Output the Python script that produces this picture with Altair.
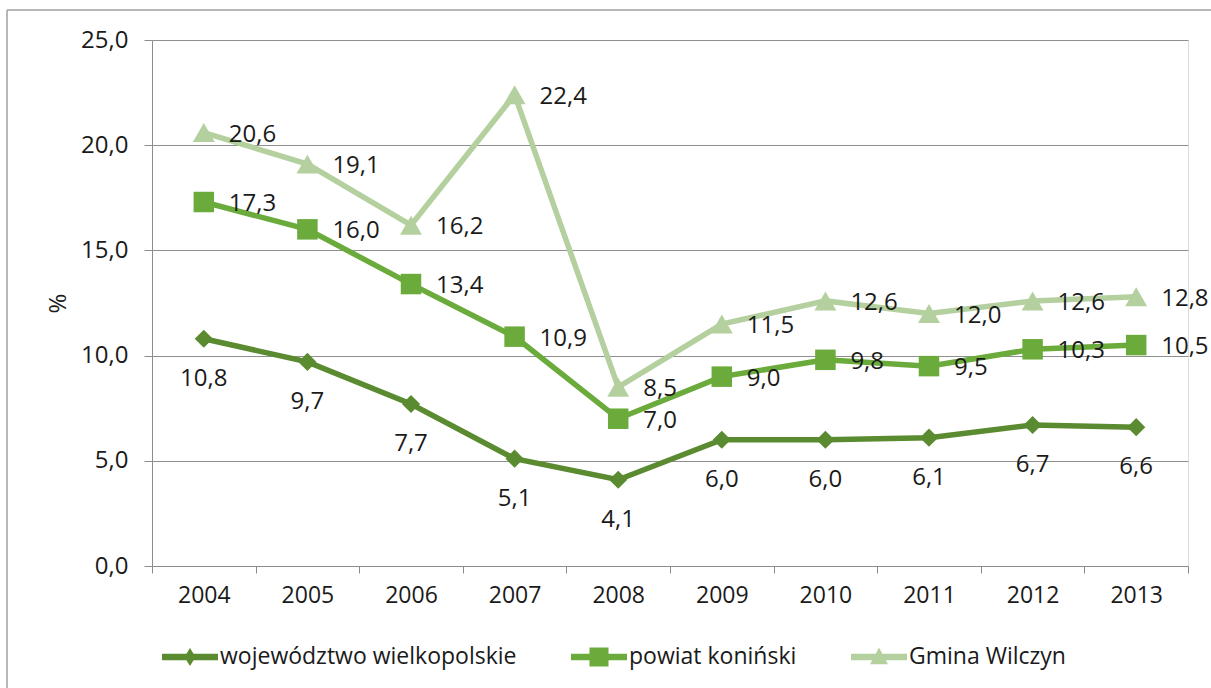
import altair as alt
import pandas as pd

years = ["2004", "2005", "2006", "2007", "2008", "2009", "2010", "2011", "2012", "2013"]
series_names = ["województwo wielkopolskie", "powiat koniński", "Gmina Wilczyn"]
wojewodztwo = [10.8, 9.7, 7.7, 5.1, 4.1, 6.0, 6.0, 6.1, 6.7, 6.6]
powiat = [17.3, 16.0, 13.4, 10.9, 7.0, 9.0, 9.8, 9.5, 10.3, 10.5]
gmina = [20.6, 19.1, 16.2, 22.4, 8.5, 11.5, 12.6, 12.0, 12.6, 12.8]
colors = ["#5a8b31", "#6aab3c", "#b5d09f"]

rows = []
for name, vals in zip(series_names, [wojewodztwo, powiat, gmina]):
    for y, v in zip(years, vals):
        rows.append({"year": y, "series": name, "value": v})
df = pd.DataFrame(rows)

FONT = "Open Sans"
W, H = 1036, 526

x_enc = alt.X("year:O", sort=years,
              scale=alt.Scale(type="band", paddingInner=0, paddingOuter=0),
              axis=alt.Axis(title=None, tickBand="extent", labelAngle=0,
                            grid=False, ticks=True, tickSize=7, tickColor="#8c8c8c",
                            domainColor="#8c8c8c", labelPadding=11, labelFontSize=23,
                            labelColor="#1a1a1a", labelFont=FONT))
y_enc = alt.Y("value:Q", scale=alt.Scale(domain=[0, 25], nice=False),
              axis=alt.Axis(title="%", values=[0, 5, 10, 15, 20, 25],
                            labelExpr="replace(format(datum.value, '.1f'), '.', ',')",
                            grid=True, gridColor="#8f8f8f", gridWidth=1,
                            tickSize=8, tickColor="#8c8c8c", domainColor="#8c8c8c",
                            labelPadding=16, labelFontSize=24, labelColor="#1a1a1a",
                            labelFont=FONT, titleFont=FONT, titleFontSize=24,
                            titleFontWeight="normal", titleColor="#1a1a1a", titlePadding=10))
color_enc = alt.Color("series:N", scale=alt.Scale(domain=series_names, range=colors), legend=None)

base = alt.Chart(df)

lines = base.mark_line(strokeWidth=5.5).encode(x=x_enc, y=y_enc, color=color_enc,
                                                detail="series:N")

shapes = ["diamond", "square", "triangle-up"]
sizes = [330, 420, 480]
point_layers = []
for name, shp, sz in zip(series_names, shapes, sizes):
    point_layers.append(
        base.transform_filter(alt.datum.series == name)
        .mark_point(shape=shp, filled=True, size=sz, opacity=1)
        .encode(x=x_enc, y=y_enc, color=color_enc)
    )

lab = "replace(format(datum.value, '.1f'), '.', ',')"
text_below = (base.transform_filter(alt.datum.series == series_names[0])
              .transform_calculate(label=lab)
              .mark_text(dy=40, align="center", baseline="middle", fontSize=24,
                         font=FONT, color="#1a1a1a")
              .encode(x=x_enc, y=y_enc, text="label:N"))
text_right = (base.transform_filter(alt.datum.series != series_names[0])
              .transform_calculate(label=lab)
              .mark_text(dx=25, dy=2, align="left", baseline="middle", fontSize=24,
                         font=FONT, color="#1a1a1a")
              .encode(x=x_enc, y=y_enc, text="label:N"))

legend_paths = [
    "M-1,-0.12H1V0.12H-1Z M0,-0.32L0.2,0L0,0.32L-0.2,0Z",
    "M-1,-0.12H1V0.12H-1Z M-0.34,-0.34H0.34V0.34H-0.34Z",
    "M-1,-0.12H1V0.12H-1Z M0,-0.34L0.32,0.26L-0.32,0.26Z",
]
leg = alt.Legend(title=None, orient="none", direction="horizontal",
                 legendX=10, legendY=589, symbolSize=3136,
                 symbolStrokeWidth=0, symbolOpacity=1, labelFontSize=23,
                 labelFont=FONT, labelColor="#1a1a1a",
                 columnPadding=54, labelOffset=2, labelLimit=500)
legend_layer = (base.mark_point(filled=True, opacity=0)
                .encode(
                    x=x_enc, y=y_enc,
                    fill=alt.Fill("series:N", scale=alt.Scale(domain=series_names, range=colors),
                                  legend=leg),
                    shape=alt.Shape("series:N",
                                    scale=alt.Scale(domain=series_names, range=legend_paths),
                                    legend=leg),
                ))

frame_data = alt.Data(values=[{"k": 1}])
frame_left = alt.Chart(frame_data).mark_rule(color="#a0a0a0", strokeWidth=1.5).encode(
    x=alt.value(-145), y=alt.value(-30), y2=alt.value(700))
frame_top = alt.Chart(frame_data).mark_rule(color="#a0a0a0", strokeWidth=1.5).encode(
    x=alt.value(-145), x2=alt.value(1100), y=alt.value(-30))

chart = alt.layer(legend_layer, lines, *point_layers, text_below, text_right,
                  frame_left, frame_top).properties(
    width=W, height=H,
    autosize=alt.AutoSizeParams(type="none"),
    padding={"left": 152, "top": 40, "right": 23, "bottom": 122},
).configure_view(fill="#e9ede5", stroke=None).configure(background="white")

chart.save("out.html", embed_options={"renderer": "svg", "actions": False})
